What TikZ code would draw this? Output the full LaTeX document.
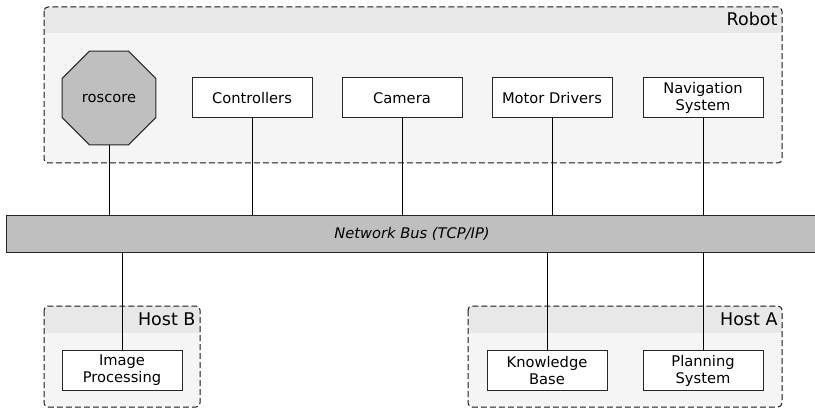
\documentclass[tikz,border=0pt]{standalone}
\usepackage{fontspec}
\setmainfont{DejaVu Sans}
\usetikzlibrary{shapes.geometric}

\begin{document}
\begin{tikzpicture}[x=1pt, y=-1pt, line width=1pt,
    every node/.style={font=\fontsize{14.67}{17}\selectfont},
    unit/.style={draw=black!85, fill=white, minimum width=120pt, minimum height=40pt, inner sep=0pt, align=center},
    core/.style={draw=black!85, fill=black!25, regular polygon, regular polygon sides=8, minimum size=101.7pt, inner sep=0pt},
    bus/.style={draw=black!85, fill=black!25, minimum width=812pt, minimum height=37pt, inner sep=0pt, font=\fontsize{14.67}{17}\selectfont\itshape},
    group/.style={draw=black!90, dash pattern=on 6pt off 3pt, rounded corners=4pt},
    title/.style={anchor=base east, inner sep=0pt, font=\fontsize{17.5}{20}\selectfont}]
    \useasboundingbox (0,0) rectangle (815,409);
    \clip (0,0) rectangle (815,409);

    % Robot group
    \fill[black!4, rounded corners=4pt] (44,7) rectangle (782,163);
    \begin{scope}
        \clip[rounded corners=4pt] (44,7) rectangle (782,163);
        \fill[black!9] (44,7) rectangle (782,33);
    \end{scope}
    \draw[group] (44,7) rectangle (782,163);
    \node[title] (robot) at (778,26) {Robot};

    % Host B group
    \fill[black!4, rounded corners=4pt] (44,306) rectangle (200,407);
    \begin{scope}
        \clip[rounded corners=4pt] (44,306) rectangle (200,407);
        \fill[black!9] (44,306) rectangle (200,333);
    \end{scope}
    \draw[group] (44,306) rectangle (200,407);
    \node[title] (hostb) at (196,325) {Host B};

    % Host A group
    \fill[black!4, rounded corners=4pt] (468,306) rectangle (782,407);
    \begin{scope}
        \clip[rounded corners=4pt] (468,306) rectangle (782,407);
        \fill[black!9] (468,306) rectangle (782,333);
    \end{scope}
    \draw[group] (468,306) rectangle (782,407);
    \node[title] (hosta) at (778,325) {Host A};

    % Network bus
    \node[bus] (bus) at (412,234) {Network Bus (TCP/IP)};

    % Robot nodes
    \node[core] (roscore) at (109,98) {roscore};
    \node[unit] (controllers) at (252,98) {Controllers};
    \node[unit] (camera) at (402,98) {Camera};
    \node[unit] (motors) at (552,98) {Motor Drivers};
    \node[unit] (navigation) at (703,98) {Navigation\\System};

    % Host nodes
    \node[unit] (imageproc) at (122,370.5) {Image\\Processing};
    \node[unit] (knowledge) at (547,370.5) {Knowledge\\Base};
    \node[unit] (planning) at (703,370.5) {Planning\\System};

    % Connections to the bus
    \draw (roscore) -- (roscore |- bus.north);
    \draw (controllers) -- (controllers |- bus.north);
    \draw (camera) -- (camera |- bus.north);
    \draw (motors) -- (motors |- bus.north);
    \draw (navigation) -- (navigation |- bus.north);
    \draw (imageproc) -- (imageproc |- bus.south);
    \draw (knowledge) -- (knowledge |- bus.south);
    \draw (planning) -- (planning |- bus.south);
\end{tikzpicture}
\end{document}
